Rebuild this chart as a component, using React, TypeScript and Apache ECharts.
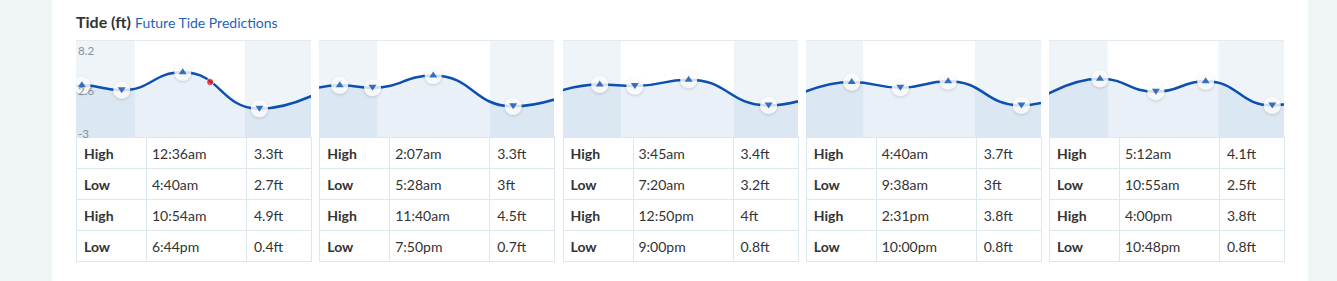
import React, { useEffect, useRef } from "react";
import * as echarts from "echarts";

// ---- data ----
const tideKinds: string[][] = [
  ["High", "Low", "High", "Low"],
  ["High", "Low", "High", "Low"],
  ["High", "Low", "High", "Low"],
  ["High", "Low", "High", "Low"],
  ["High", "Low", "High", "Low"],
];
const tideTimes: string[][] = [
  ["12:36am", "4:40am", "10:54am", "6:44pm"],
  ["2:07am", "5:28am", "11:40am", "7:50pm"],
  ["3:45am", "7:20am", "12:50pm", "9:00pm"],
  ["4:40am", "9:38am", "2:31pm", "10:00pm"],
  ["5:12am", "10:55am", "4:00pm", "10:48pm"],
];
const tideHeights: number[][] = [
  [3.3, 2.7, 4.9, 0.4],
  [3.3, 3, 4.5, 0.7],
  [3.4, 3.2, 4, 0.8],
  [3.7, 3, 3.8, 0.8],
  [4.1, 2.5, 3.8, 0.8],
];
// estimated extremes just outside the shown days (hour, ft)
const extremeBeforeFirstDay: [number, number] = [-5.5, 0.6];
const extremeAfterLastDay: [number, number] = [29.5, 4.3];
// daylight (hours)
const sunrise = [6.0, 5.95, 5.9, 5.85, 6.0];
const sunset = [17.25, 17.45, 17.45, 17.25, 17.3];
// current time marker on first day (hour, ft)
const nowPoint: [number, number] = [13.7, 3.7];
const yTicks = [-3, 2.6, 8.2];
const Y_MIN = -3.1;
const Y_MAX = 8.78;

const FONT = "Lato, 'Open Sans', sans-serif";
const LINE_BLUE = "#0b50b0";
const LABEL_GREY = "#86929b";
const PLOT_H = 96;
const LABEL_ROOM = 6;

function parseHour(t: string): number {
  const m = t.match(/^(\d+):(\d+)(am|pm)$/);
  if (!m) return 0;
  let h = parseInt(m[1], 10) % 12;
  if (m[3] === "pm") h += 12;
  return h + parseInt(m[2], 10) / 60;
}

function dayExtremes(d: number): [number, number][] {
  return tideTimes[d].map((t, i) => [parseHour(t), tideHeights[d][i]] as [number, number]);
}

function TideChart({ day }: { day: number }) {
  const ref = useRef<HTMLDivElement>(null);
  useEffect(() => {
    if (!ref.current) return;
    const chart = echarts.init(ref.current, undefined, { renderer: "svg" });
    const ext = dayExtremes(day);
    const prev: [number, number] =
      day === 0
        ? extremeBeforeFirstDay
        : (() => {
            const p = dayExtremes(day - 1);
            const last = p[p.length - 1];
            return [last[0] - 24, last[1]] as [number, number];
          })();
    const next: [number, number] =
      day === tideTimes.length - 1
        ? extremeAfterLastDay
        : (() => {
            const n = dayExtremes(day + 1)[0];
            return [n[0] + 24, n[1]] as [number, number];
          })();
    const curve = [prev, ...ext, next];
    const highs = ext.filter((_, i) => tideKinds[day][i] === "High");
    const lows = ext.filter((_, i) => tideKinds[day][i] === "Low");
    const series: any[] = [
      {
        type: "line",
        data: curve,
        smooth: 0.5,
        smoothMonotone: "x",
        showSymbol: false,
        silent: true,
        z: 3,
        lineStyle: { color: LINE_BLUE, width: 2.5 },
        areaStyle: { color: "rgba(150,185,220,0.3)", origin: "start" },
        markArea: {
          silent: true,
          z: 1,
          itemStyle: { color: "#eef4f8" },
          data: [
            [{ xAxis: 0 }, { xAxis: sunrise[day] }],
            [{ xAxis: sunset[day] }, { xAxis: 24 }],
          ],
        },
      },
      {
        type: "scatter",
        data: ext,
        symbol: "circle",
        symbolSize: 17,
        z: 4,
        itemStyle: {
          color: "#ffffff",
          shadowBlur: 3,
          shadowColor: "rgba(0,0,0,0.22)",
          shadowOffsetY: 1,
        },
      },
      {
        type: "scatter",
        data: highs,
        symbol: "triangle",
        symbolSize: [8, 6],
        symbolOffset: [0, -1],
        z: 5,
        itemStyle: { color: LINE_BLUE },
      },
      {
        type: "scatter",
        data: lows,
        symbol: "triangle",
        symbolRotate: 180,
        symbolSize: [8, 6],
        z: 5,
        itemStyle: { color: LINE_BLUE },
      },
    ];
    if (day === 0) {
      series.push({
        type: "scatter",
        data: [nowPoint],
        symbol: "circle",
        symbolSize: 7,
        z: 6,
        itemStyle: { color: "#e5171f", borderColor: "#ffffff", borderWidth: 1 },
      });
    }
    chart.setOption({
      animation: false,
      grid: { left: 0, right: 0, top: 0, bottom: LABEL_ROOM, containLabel: false, outerBoundsMode: "none" },
      xAxis: { type: "value", min: 0, max: 24, show: false },
      yAxis: {
        type: "value",
        min: Y_MIN,
        max: Y_MAX,
        z: 10,
        splitLine: { show: false },
        axisLine: { show: false },
        axisTick: { show: false },
        axisLabel: {
          show: day === 0,
          inside: true,
          margin: 2,
          customValues: yTicks,
          showMinLabel: true,
          showMaxLabel: true,
          color: LABEL_GREY,
          fontSize: 11.5,
          fontFamily: FONT,
          formatter: (v: number) =>
            v === yTicks[yTicks.length - 1] ? `{t|${v}}` : v === yTicks[0] ? `{b|${v}}` : `{m|${v}}`,
          rich: {
            t: { padding: [10, 0, 0, 0], fontSize: 11.5, color: LABEL_GREY, fontFamily: FONT },
            b: { padding: [0, 0, 6, 0], fontSize: 11.5, color: LABEL_GREY, fontFamily: FONT },
            m: { fontSize: 11.5, color: LABEL_GREY, fontFamily: FONT },
          },
        },
      },
      series,
    });
    return () => chart.dispose();
  }, [day]);
  return (
    <div
      ref={ref}
      style={{ position: "absolute", left: 0, top: 0, width: 235, height: PLOT_H + LABEL_ROOM }}
    />
  );
}

const cellBorder = "1px solid #dde7ee";

function TideTable({ day }: { day: number }) {
  return (
    <table
      style={{
        borderCollapse: "collapse",
        width: 235,
        tableLayout: "fixed",
        fontFamily: FONT,
        fontSize: 14,
        color: "#333",
      }}
    >
      <colgroup>
        <col style={{ width: 70 }} />
        <col style={{ width: 100 }} />
        <col style={{ width: 65 }} />
      </colgroup>
      <tbody>
        {tideKinds[day].map((k, i) => (
          <tr key={i} style={{ height: 30 }}>
            <td style={{ border: cellBorder, padding: "0 0 0 7px", fontWeight: 700, height: 30 }}>{k}</td>
            <td style={{ border: cellBorder, padding: "0 0 0 5px", height: 30 }}>{tideTimes[day][i]}</td>
            <td style={{ border: cellBorder, padding: "0 0 0 7px", height: 30 }}>{tideHeights[day][i]}ft</td>
          </tr>
        ))}
      </tbody>
    </table>
  );
}

export default function App() {
  return (
    <div
      style={{
        position: "absolute",
        left: 0,
        top: 0,
        width: 1337,
        height: 281,
        background: "#f0f5f8",
        overflow: "hidden",
      }}
    >
      <div style={{ position: "absolute", left: 52, top: 0, width: 1256, height: 281, background: "#ffffff" }} />
      <div
        style={{
          position: "absolute",
          left: 76,
          top: 12,
          fontFamily: FONT,
          whiteSpace: "nowrap",
          lineHeight: "20px",
        }}
      >
        <span style={{ fontWeight: 700, fontSize: 16, color: "#333" }}>Tide (ft)</span>{" "}
        <span style={{ fontSize: 14, color: "#1f5fbb" }}>Future Tide Predictions</span>
      </div>
      {tideTimes.map((_, d) => (
        <div
          key={d}
          style={{ position: "absolute", left: 76 + d * 243.25, top: 40, width: 235 }}
        >
          <div style={{ borderTop: "1px solid #e3ebf1", height: PLOT_H, position: "relative" }}>
            <TideChart day={d} />
          </div>
          <TideTable day={d} />
        </div>
      ))}
    </div>
  );
}
